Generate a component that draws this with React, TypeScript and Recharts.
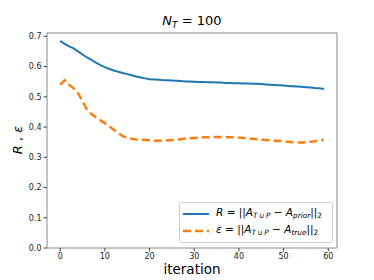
import React from 'react';
import { LineChart, Line, XAxis, YAxis } from 'recharts';

const iterations: number[] = Array.from({ length: 60 }, (_, i) => i);

const residualR: number[] = [
  0.685, 0.675, 0.667, 0.66, 0.65, 0.64, 0.63, 0.622, 0.613, 0.605,
  0.598, 0.592, 0.587, 0.583, 0.579, 0.575, 0.571, 0.567, 0.564, 0.561,
  0.558, 0.557, 0.556, 0.555, 0.555, 0.554, 0.553, 0.552, 0.551, 0.551,
  0.55, 0.549, 0.549, 0.548, 0.548, 0.547, 0.547, 0.546, 0.546, 0.545,
  0.545, 0.544, 0.544, 0.543, 0.543, 0.542, 0.541, 0.54, 0.539, 0.538,
  0.537, 0.536, 0.535, 0.534, 0.533, 0.532, 0.531, 0.529, 0.528, 0.526,
];

const errorEps: number[] = [
  0.54, 0.555, 0.54, 0.528, 0.512, 0.485, 0.458, 0.443, 0.432, 0.422,
  0.413, 0.402, 0.391, 0.38, 0.37, 0.364, 0.361, 0.359, 0.358, 0.357,
  0.356, 0.355, 0.355, 0.355, 0.356, 0.357, 0.358, 0.36, 0.362, 0.363,
  0.364, 0.365, 0.366, 0.366, 0.367, 0.367, 0.367, 0.367, 0.366, 0.366,
  0.365, 0.364, 0.362, 0.361, 0.36, 0.358, 0.357, 0.356, 0.355, 0.354,
  0.353, 0.351, 0.35, 0.349, 0.349, 0.35, 0.351, 0.353, 0.356, 0.358,
];

const xTicks: number[] = [0, 10, 20, 30, 40, 50, 60];
const yTicks: number[] = [0, 0.1, 0.2, 0.3, 0.4, 0.5, 0.6, 0.7];

const data = iterations.map((it, i) => ({ it, R: residualR[i], eps: errorEps[i] }));

const mathFont = '"DejaVu Sans", sans-serif';
const BLUE = '#1f77b4';
const ORANGE = '#ff7f0e';

const subStyle: React.CSSProperties = { fontSize: '0.7em', verticalAlign: '-0.3em', fontStyle: 'italic' };
const sub2Style: React.CSSProperties = { fontSize: '0.7em', verticalAlign: '-0.3em' };

const LegendBox = () => (
  <div
    style={{
      position: 'absolute',
      left: 179,
      top: 202,
      border: '1px solid #cccccc',
      borderRadius: 3,
      background: 'rgba(255,255,255,0.8)',
      width: 154,
      height: 41,
      boxSizing: 'border-box',
      fontFamily: mathFont,
      fontSize: 10.5,
      color: '#000',
      padding: '2px 3px',
    }}
  >
    <div style={{ display: 'flex', alignItems: 'center', height: 17 }}>
      <svg width={26} height={6} style={{ marginRight: 7, flexShrink: 0 }}>
        <line x1={0} y1={3} x2={26} y2={3} stroke={BLUE} strokeWidth={2} />
      </svg>
      <span style={{ whiteSpace: 'nowrap' }}>
        <i>R</i> = ||<i>A</i>
        <span style={subStyle}>T{'\u2009'}∪{'\u2009'}P</span> − <i>A</i>
        <span style={subStyle}>prior</span>||<span style={sub2Style}>2</span>
      </span>
    </div>
    <div style={{ display: 'flex', alignItems: 'center', height: 17 }}>
      <svg width={26} height={6} style={{ marginRight: 7, flexShrink: 0 }}>
        <line x1={0} y1={3} x2={26} y2={3} stroke={ORANGE} strokeWidth={2.5} strokeDasharray="8 4" />
      </svg>
      <span style={{ whiteSpace: 'nowrap' }}>
        <i>ε</i> = ||<i>A</i>
        <span style={subStyle}>T{'\u2009'}∪{'\u2009'}P</span> − <i>A</i>
        <span style={subStyle}>true</span>||<span style={sub2Style}>2</span>
      </span>
    </div>
  </div>
);

export default function App() {
  const tickStyle = { fontSize: 8, fill: '#222', fontFamily: mathFont };
  return (
    <div style={{ position: 'absolute', left: 0, top: 0, width: 374, height: 280, background: '#fff' }}>
      <LineChart width={374} height={280} data={data} margin={{ top: 32, right: 36, bottom: 12, left: 7 }}>
        <XAxis
          dataKey="it"
          type="number"
          domain={[-2.95, 61.95]}
          ticks={xTicks}
          allowDataOverflow
          tick={tickStyle}
          tickLine={{ stroke: '#444' }}
          tickSize={3.5}
          axisLine={{ stroke: '#888' }}
          height={20}
          interval={0}
        />
        <XAxis
          xAxisId="top"
          orientation="top"
          type="number"
          domain={[0, 1]}
          tick={false}
          tickLine={false}
          axisLine={{ stroke: '#888' }}
          height={1}
        />
        <YAxis
          type="number"
          domain={[0, 0.711]}
          ticks={yTicks}
          allowDataOverflow
          tick={tickStyle}
          tickLine={{ stroke: '#444' }}
          tickSize={3.5}
          tickFormatter={(v: number) => v.toFixed(1)}
          axisLine={{ stroke: '#888' }}
          width={40}
          interval={0}
        />
        <YAxis
          yAxisId="right"
          orientation="right"
          type="number"
          domain={[0, 1]}
          tick={false}
          tickLine={false}
          axisLine={{ stroke: '#888' }}
          width={1}
        />
        <Line
          type="linear"
          dataKey="R"
          stroke={BLUE}
          strokeWidth={2}
          dot={false}
          isAnimationActive={false}
          name="R"
        />
        <Line
          type="linear"
          dataKey="eps"
          stroke={ORANGE}
          strokeWidth={2.5}
          strokeDasharray="8 4"
          dot={false}
          isAnimationActive={false}
          name="eps"
        />
      </LineChart>
      <LegendBox />
      <div
        style={{
          position: 'absolute',
          left: 0,
          width: 384,
          top: 13,
          textAlign: 'center',
          fontFamily: mathFont,
          fontSize: 13,
          color: '#000',
          whiteSpace: 'nowrap',
        }}
      >
        <i>N</i>
        <span style={subStyle}>T</span> = 100
      </div>
      <div
        style={{
          position: 'absolute',
          left: 192 - 60,
          width: 120,
          top: 261,
          textAlign: 'center',
          fontFamily: mathFont,
          fontSize: 13.5,
          color: '#000',
        }}
      >
        iteration
      </div>
      <div
        style={{
          position: 'absolute',
          left: 18 - 40,
          top: 140 - 9,
          width: 80,
          height: 18,
          lineHeight: '18px',
          textAlign: 'center',
          transform: 'rotate(-90deg)',
          fontFamily: mathFont,
          fontSize: 13,
          color: '#000',
          whiteSpace: 'nowrap',
        }}
      >
        <i>R</i> , <i>ε</i>
      </div>
    </div>
  );
}
